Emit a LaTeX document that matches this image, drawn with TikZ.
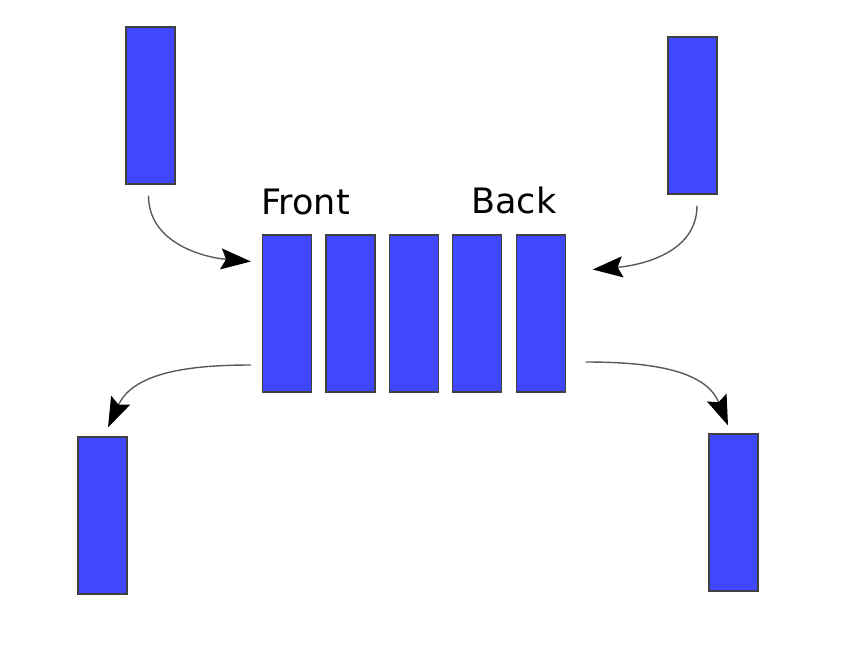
\documentclass[tikz,border=0pt]{standalone}
\usepackage{fontspec}
\setmainfont{DejaVu Sans}
\usetikzlibrary{arrows.meta,positioning}
\definecolor{qblue}{HTML}{3F48FF}
\definecolor{qline}{HTML}{5A5A5A}
\begin{document}
\begin{tikzpicture}[x=1pt,y=-1pt,
  slot/.style={rectangle, draw=black!75, line width=1.2pt, fill=qblue, inner sep=0pt, minimum width=49pt, minimum height=157pt},
  flow/.style={draw=qline, line width=1.4pt, -{Stealth[length=30pt,width=21pt,inset=5pt,fill=black,color=black]}},
  tag/.style={font=\fontsize{35}{40}\selectfont, anchor=base, inner sep=0pt}]
\useasboundingbox (0,0) rectangle (846,646);
\node[slot] (tl) at (150.5,105.5){};
\node[slot] (tr) at (692.5,115.5){};
\foreach \i in {1,...,5}
  \node[slot] (f\i) at ({287+63.4*(\i-1)},313.5){};
\node[slot] (bl) at (102.5,515.5){};
\node[slot] (br) at (733.5,512.5){};
\node[tag] (front) at (305.5,214){Front};
\node[tag] (back) at (514,213){Back};
\draw[flow] ([xshift=-2pt,yshift=-11pt]tl.south) to[out=-90,in=175] ([xshift=-11pt,yshift=52pt]f1.west);
\draw[flow] ([xshift=4.5pt,yshift=-11pt]tr.south) to[out=-90,in=5] ([xshift=27pt,yshift=44pt]f5.east);
\draw[flow] ([xshift=-11pt,yshift=-51.5pt]f1.west) to[out=180,in=65] ([xshift=5.5pt,yshift=9pt]bl.north);
\draw[flow] ([xshift=20pt,yshift=-48.5pt]f5.east) to[out=0,in=112] ([xshift=-5.5pt,yshift=8pt]br.north);
%\draw[flow] (f5) to (br);
\end{tikzpicture}
\end{document}
